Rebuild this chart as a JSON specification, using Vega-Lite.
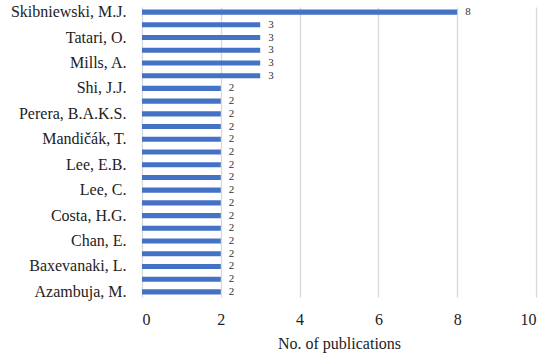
{
  "$schema": "https://vega.github.io/schema/vega-lite/v6.json",
  "width": 394,
  "height": 290,
  "autosize": {"type": "none"},
  "padding": {"left": 142, "top": 7, "right": 14, "bottom": 66},
  "background": "white",
  "data": {"values": [
    {"author": "Skibniewski, M.J.", "pubs": 8},
    {"author": "#2", "pubs": 3},
    {"author": "Tatari, O.", "pubs": 3},
    {"author": "#4", "pubs": 3},
    {"author": "Mills, A.", "pubs": 3},
    {"author": "#6", "pubs": 3},
    {"author": "Shi, J.J.", "pubs": 2},
    {"author": "#8", "pubs": 2},
    {"author": "Perera, B.A.K.S.", "pubs": 2},
    {"author": "#10", "pubs": 2},
    {"author": "Mandičák, T.", "pubs": 2},
    {"author": "#12", "pubs": 2},
    {"author": "Lee, E.B.", "pubs": 2},
    {"author": "#14", "pubs": 2},
    {"author": "Lee, C.", "pubs": 2},
    {"author": "#16", "pubs": 2},
    {"author": "Costa, H.G.", "pubs": 2},
    {"author": "#18", "pubs": 2},
    {"author": "Chan, E.", "pubs": 2},
    {"author": "#20", "pubs": 2},
    {"author": "Baxevanaki, L.", "pubs": 2},
    {"author": "#22", "pubs": 2},
    {"author": "Azambuja, M.", "pubs": 2}
  ]},
  "encoding": {
    "y": {
      "field": "author", "type": "nominal", "sort": null,
      "scale": {"paddingInner": 0.6, "paddingOuter": 0.2},
      "axis": {
        "title": null, "domain": false, "ticks": false, "grid": false,
        "labelFont": "Times New Roman", "labelFontSize": 16, "labelColor": "#222",
        "labelPadding": 16, "labelOverlap": false,
        "labelExpr": "indexof(datum.label, '#') == 0 ? '' : datum.label"
      }
    },
    "x": {
      "field": "pubs", "type": "quantitative",
      "scale": {"domain": [0, 10]},
      "axis": {
        "values": [0, 2, 4, 6, 8, 10], "title": "No. of publications",
        "domain": false, "ticks": false, "grid": true, "gridColor": "#d9d9d9", "gridWidth": 1.3,
        "labelFont": "Times New Roman", "labelFontSize": 16, "labelColor": "#222", "labelPadding": 14,
        "titleFont": "Times New Roman", "titleFontSize": 16, "titleFontWeight": "normal", "titleColor": "#222", "titlePadding": 8
      }
    }
  },
  "layer": [
    {"mark": {"type": "bar", "color": "#4472C4"}},
    {"mark": {"type": "text", "align": "left", "dx": 8, "font": "Times New Roman", "fontSize": 11, "color": "#333"},
     "encoding": {"text": {"field": "pubs", "type": "quantitative"}}}
  ],
  "config": {"view": {"stroke": null}}
}
